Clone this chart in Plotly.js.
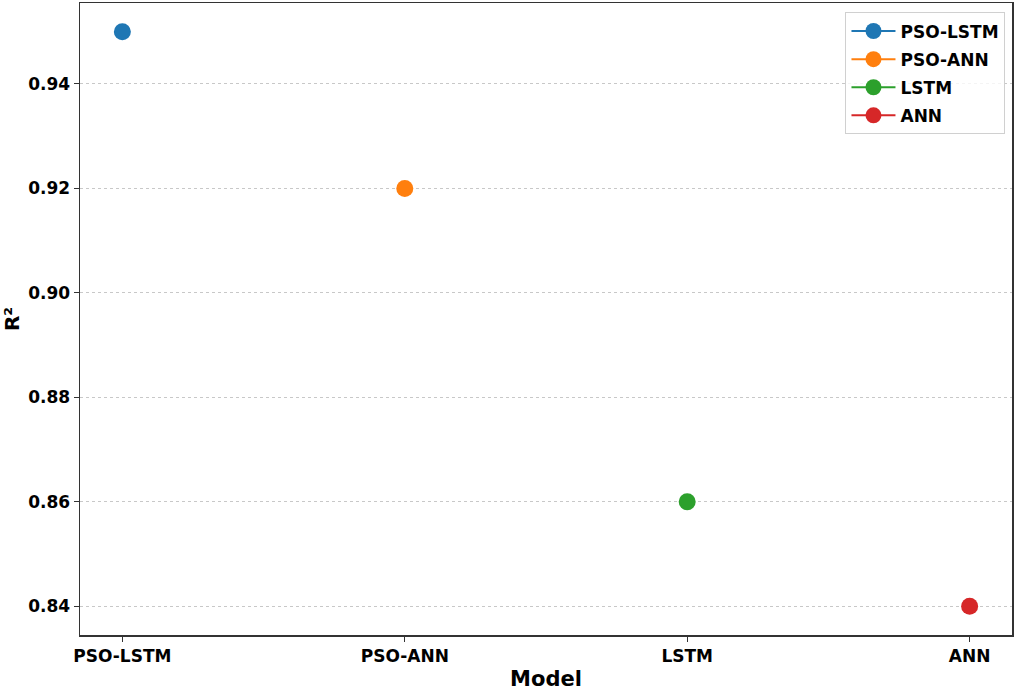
<!DOCTYPE html>
<html>
<head>
<meta charset="utf-8">
<script src="https://cdn.plot.ly/plotly-3.0.1.min.js"></script>
<style>html,body{margin:0;padding:0;background:#fff;}#chart{width:1016px;height:692px;}</style>
</head>
<body>
<div id="chart"></div>
<script>
const models = ["PSO-LSTM", "PSO-ANN", "LSTM", "ANN"];
const r2Values = [0.95, 0.92, 0.86, 0.84];
const colors = ["#1f77b4", "#ff7f0e", "#2ca02c", "#d62728"];
const yTicks = [0.84, 0.86, 0.88, 0.90, 0.92, 0.94];

const traces = models.map((m, i) => ({
  type: "scatter",
  mode: "lines+markers",
  x: [i],
  y: [r2Values[i]],
  name: m,
  legendgroup: "g" + i,
  marker: {color: colors[i], size: 17},
  line: {color: colors[i], width: 2}
}));

const font = {family: "DejaVu Sans, sans-serif", color: "#000"};

const layout = {
  width: 1016, height: 692,
  margin: {l: 80, r: 4, t: 3, b: 57},
  paper_bgcolor: "#fff", plot_bgcolor: "#fff",
  font: font,
  showlegend: true,
  legend: {
    x: 0.993, y: 0.985, xanchor: "right", yanchor: "top",
    bgcolor: "rgba(255,255,255,0.8)", bordercolor: "#d0d0d0", borderwidth: 1,
    font: {family: "DejaVu Sans, sans-serif", size: 17, color: "#000", weight: "bold"},
    tracegroupgap: 3, itemwidth: 44
  },
  xaxis: {
    range: [-0.15, 3.15],
    tickvals: [0, 1, 2, 3], ticktext: models,
    showgrid: false, zeroline: false,
    showline: true, linecolor: "#333", linewidth: 1.5, mirror: true,
    ticks: "outside", ticklen: 5, tickcolor: "#333",
    tickfont: {family: "DejaVu Sans, sans-serif", size: 17, color: "#000", weight: "bold"},
    title: {text: "Model", font: {family: "DejaVu Sans, sans-serif", size: 21, color: "#000", weight: "bold"}, standoff: 6}
  },
  yaxis: {
    range: [0.8345, 0.9555],
    tickvals: yTicks, ticktext: yTicks.map(v => v.toFixed(2)),
    showgrid: true, gridcolor: "#c8c8c8", griddash: "dot", gridwidth: 1,
    zeroline: false,
    showline: true, linecolor: "#333", linewidth: 1.5, mirror: true,
    ticks: "outside", ticklen: 5, tickcolor: "#333",
    tickfont: {family: "DejaVu Sans, sans-serif", size: 17, color: "#000", weight: "bold"},
    title: {text: "R²", font: {family: "DejaVu Sans, sans-serif", size: 20, color: "#000", weight: "bold"}, standoff: 8}
  }
};

Plotly.newPlot("chart", traces, layout, {displayModeBar: false, staticPlot: true});
</script>
</body>
</html>
